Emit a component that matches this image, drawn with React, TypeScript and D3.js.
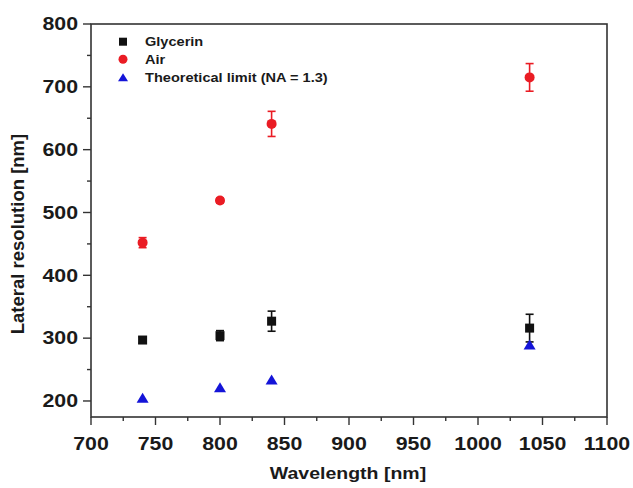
import React from 'react';
import * as d3 from 'd3';

const wavelengths = [740, 800, 840, 1040];
const glycerin = [297, 304, 327, 316];
const glycerinErr = [5, 8, 16, 22];
const air = [452, 519, 641, 715];
const airErr = [8, 4, 20, 22];
const theoretical = [205, 222, 234, 290];
const xMajorTicks = [700, 750, 800, 850, 900, 950, 1000, 1050, 1100];
const xMinorTicks = [725, 775, 825, 875, 925, 975, 1025, 1075];
const yMajorTicks = [200, 300, 400, 500, 600, 700, 800];
const yMinorTicks = [250, 350, 450, 550, 650, 750];
const legendLabels = ['Glycerin', 'Air', 'Theoretical limit (NA = 1.3)'];

const W = 633, H = 488;
const L = 91, R = 607, T = 24, B = 417;
const SX = 1.22;
const FONT = 'Liberation Sans, Arial, sans-serif';
const BLACK = '#111111';
const RED = '#ea1c24';
const BLUE = '#1414d8';

const x = d3.scaleLinear().domain([700, 1100]).range([L, R]);
const y = d3.scaleLinear().domain([174.5, 800]).range([B, T]);

function Txt({ x, y, anchor = 'middle', size, weight = 'bold', children, rotate = 0, sx = SX }: any) {
  const tr = rotate
    ? `translate(${x},${y}) rotate(${rotate}) scale(1,1)`
    : `translate(${x},${y}) scale(${sx},1)`;
  return (
    <text transform={tr} textAnchor={anchor} fontFamily={FONT} fontSize={size} fontWeight={weight} fill="#1a1a1a">
      {children}
    </text>
  );
}

function Square({ cx, cy, s = 9, fill }: any) {
  return <rect x={cx - s / 2} y={cy - s / 2} width={s} height={s} fill={fill} />;
}
function Circle({ cx, cy, r = 5, fill }: any) {
  return <circle cx={cx} cy={cy} r={r} fill={fill} />;
}
function Tri({ cx, cy, w = 12, h = 10, fill }: any) {
  const pts = [[cx, cy - h / 2], [cx + w / 2, cy + h / 2], [cx - w / 2, cy + h / 2]];
  return <polygon points={pts.map(p => p.join(',')).join(' ')} fill={fill} />;
}
function ErrBar({ cx, v, e, color }: any) {
  const y1 = y(v - e), y2 = y(v + e);
  const c = 4;
  return (
    <g stroke={color} strokeWidth={1.6} fill="none">
      <line x1={cx} x2={cx} y1={y1} y2={y2} />
      <line x1={cx - c} x2={cx + c} y1={y1} y2={y1} />
      <line x1={cx - c} x2={cx + c} y1={y2} y2={y2} />
    </g>
  );
}

export default function App() {
  return (
    <svg width={W} height={H} style={{ position: 'absolute', left: 0, top: 0, background: '#fff' }}>
      <rect width={W} height={H} fill="#fff" />
      {/* frame */}
      <rect x={L} y={T} width={R - L} height={B - T} fill="none" stroke="#333" strokeWidth={1.6} />
      {/* ticks */}
      <g stroke="#333" strokeWidth={1.4}>
        {xMajorTicks.map(t => <line key={'xM' + t} x1={x(t)} x2={x(t)} y1={B} y2={B + 8} />)}
        {xMinorTicks.map(t => <line key={'xm' + t} x1={x(t)} x2={x(t)} y1={B} y2={B + 4} />)}
        {yMajorTicks.map(t => <line key={'yM' + t} x1={L} x2={L - 8} y1={y(t)} y2={y(t)} />)}
        {yMinorTicks.map(t => <line key={'ym' + t} x1={L} x2={L - 4} y1={y(t)} y2={y(t)} />)}
      </g>
      {xMajorTicks.map(t => (
        <Txt key={'xl' + t} x={x(t)} y={450} size={17.5}>{t}</Txt>
      ))}
      {yMajorTicks.map(t => (
        <Txt key={'yl' + t} x={78} y={y(t) + 6.3} size={17.5} anchor="end">{t}</Txt>
      ))}
      <Txt x={348} y={479} size={16}>Wavelength [nm]</Txt>
      <Txt x={24} y={234} size={18.5} rotate={-90}>Lateral resolution [nm]</Txt>

      {/* error bars */}
      {wavelengths.map((w, i) => <ErrBar key={'ge' + i} cx={x(w)} v={glycerin[i]} e={glycerinErr[i]} color={BLACK} />)}
      {wavelengths.map((w, i) => <ErrBar key={'ae' + i} cx={x(w)} v={air[i]} e={airErr[i]} color={RED} />)}
      {/* markers */}
      {wavelengths.map((w, i) => <Square key={'g' + i} cx={x(w)} cy={y(glycerin[i])} fill={BLACK} />)}
      {wavelengths.map((w, i) => <Circle key={'a' + i} cx={x(w)} cy={y(air[i])} fill={RED} />)}
      {wavelengths.map((w, i) => <Tri key={'t' + i} cx={x(w)} cy={y(theoretical[i])} fill={BLUE} />)}

      {/* legend */}
      <Square cx={123} cy={41.7} s={8} fill={BLACK} />
      <Circle cx={123} cy={59.3} r={4.5} fill={RED} />
      <Tri cx={123} cy={77.3} w={10} h={8} fill={BLUE} />
      {legendLabels.map((lab, i) => (
        <Txt key={lab} x={145} y={[41.7, 59.3, 77.3][i] + 4.7} size={13} anchor="start" sx={1.12}>{lab}</Txt>
      ))}
    </svg>
  );
}
